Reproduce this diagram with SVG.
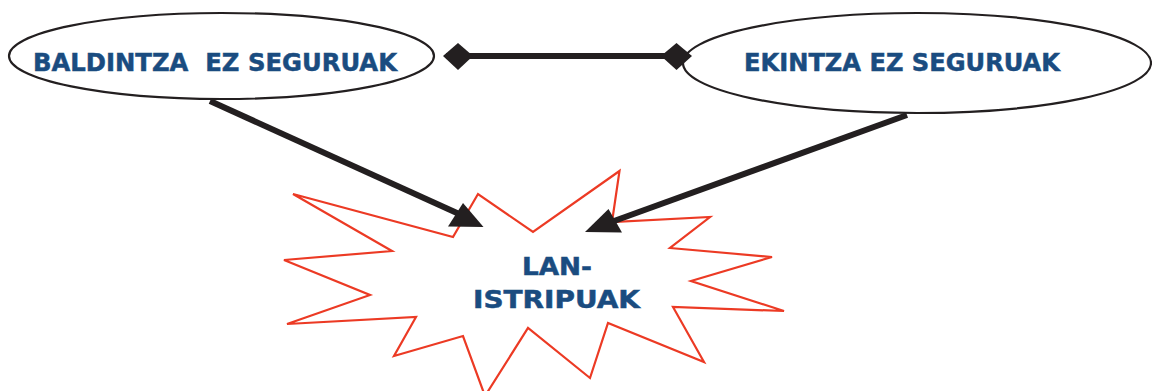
<svg xmlns="http://www.w3.org/2000/svg" width="1152" height="391" viewBox="0 0 1152 391">
<style>
.ell{fill:#fff;stroke:#231f20;stroke-width:2.2}
.lbl{font-family:"DejaVu Sans","Liberation Sans",sans-serif;font-weight:bold;font-size:24px;fill:#1a4c80;stroke:#1a4c80;stroke-width:0.5}
.star{fill:#fff;stroke:#ec3a24;stroke-width:2.2;stroke-linejoin:miter}
.con{stroke:#231f20;stroke-width:6;fill:none}
.head{fill:#231f20}
</style>
<rect width="1152" height="391" fill="#fff"/>
<g id="node-baldintza">
<ellipse class="ell" cx="221.5" cy="56" rx="212.5" ry="43"/>
<text class="lbl" x="33" y="70.5" textLength="364" lengthAdjust="spacingAndGlyphs">BALDINTZA&#160; EZ SEGURUAK</text>
</g>
<g id="node-ekintza">
<ellipse class="ell" cx="917" cy="63" rx="234" ry="50"/>
<text class="lbl" x="744" y="70.5" textLength="316" lengthAdjust="spacingAndGlyphs">EKINTZA EZ SEGURUAK</text>
</g>
<g id="node-istripuak">
<polygon class="star" points="293,194 453,237 478,194 533,232 619.5,171 612,222 710,217 670,248 772,257 691,281 784,311 673,307 704,362 608,323 590,378 528,328 485,396 463,336 394,356 416,317 287,324 370,295 284,260 392,251"/>
<text class="lbl" x="557" y="274.5" text-anchor="middle" textLength="70" lengthAdjust="spacingAndGlyphs">LAN-</text>
<text class="lbl" x="556.5" y="307.5" text-anchor="middle" textLength="167" lengthAdjust="spacingAndGlyphs">ISTRIPUAK</text>
</g>
<g id="connectors">
<line class="con" x1="446" y1="56" x2="688" y2="56"/>
<polygon class="head" points="443,56 458,43 473,56 458,70"/>
<polygon class="head" points="661,56 676.5,43 692,56 676.5,70"/>
<line class="con" x1="210" y1="101" x2="468" y2="218"/>
<polygon class="head" points="463,203 448,226.5 483.5,227"/>
<line class="con" x1="907" y1="115" x2="603" y2="225"/>
<polygon class="head" points="608.5,209 585,232 622,232.5"/>
</g>
</svg>
